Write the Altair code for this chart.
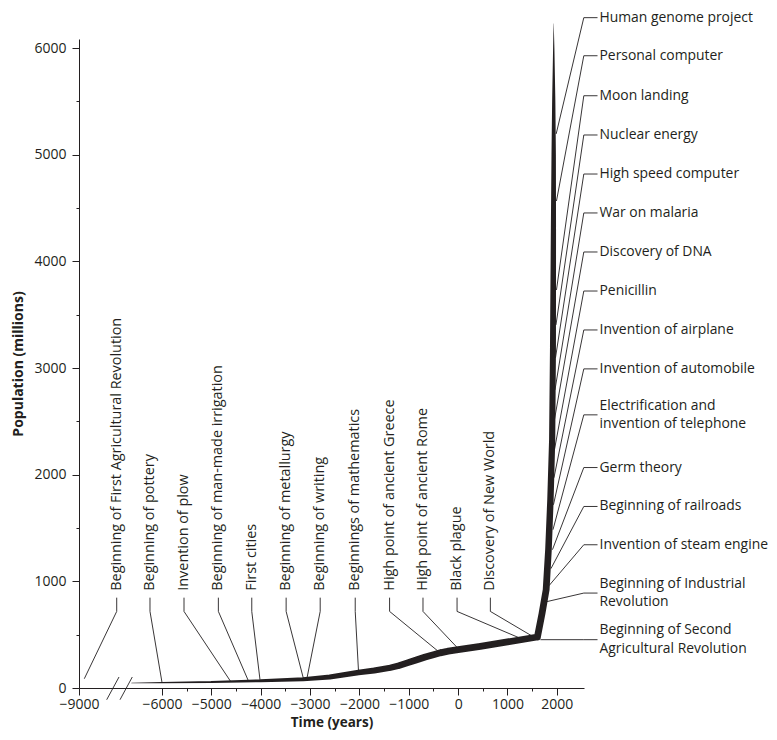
import altair as alt
import pandas as pd

# ---------------- data ----------------
# population curve: year, population (millions), drawn stroke width
curve_year = [-7100, -6000, -5000, -4000, -3140, -2600, -2018, -1700, -1375, -1200, -1030, -850, -665, -500,
              -361, -200, 0, 450, 1000, 1606,
              1700, 1783, 1830, 1870, 1905, 1921, 1931, 1936, 1937, 1937, 1935]
curve_pop = [47, 50, 56, 68, 82, 103, 146, 164, 190, 210, 235, 262, 290, 312,
             330, 345, 359, 390, 432, 478,
             700, 921, 1296, 1764, 2327, 3170, 4295, 5000, 5510, 6000, 6230]
curve_width = [0.6, 1.2, 2.0, 3.0, 4.0, 5.0, 5.6, 5.9, 6.2, 6.4, 6.6, 6.7, 6.8, 6.8,
               6.8, 6.8, 6.8, 6.8, 6.8, 6.8,
               6.8, 6.8, 6.6, 6.4, 6.2, 6.0, 5.2, 4.4, 3.2, 1.3, 0.2]

left_labels = ["Beginning of First Agricultural Revolution", "Beginning of pottery", "Invention of plow",
               "Beginning of man-made irrigation", "First cities", "Beginning of metallurgy",
               "Beginning of writing", "Beginnings of mathematics", "High point of ancient Greece",
               "High point of ancient Rome", "Black plague", "Discovery of New World"]
left_event_year = [-8808, -6000, -4606, -4249, -4012, -3134, -3065, -2018, -361, 10, 1296, 1531]
left_event_pop = [87, 52, 59, 66, 68, 87, 87, 153, 328, 365, 459, 478]

right_labels = ["Human genome project", "Personal computer", "Moon landing", "Nuclear energy",
                "High speed computer", "War on malaria", "Discovery of DNA", "Penicillin",
                "Invention of airplane", "Invention of automobile", "Electrification and\ninvention of telephone",
                "Germ theory", "Beginning of railroads", "Invention of steam engine",
                "Beginning of Industrial\nRevolution", "Beginning of Second\nAgricultural Revolution"]
right_event_year = [1986, 1992, 1992, 1982, 1972, 1962, 1951, 1951, 1941, 1931, 1921, 1911, 1880, 1840, 1789, 1667]
right_event_pop = [5195, 4566, 3732, 3404, 3095, 2795, 2514, 2233, 1971, 1718, 1484, 1297, 1119, 959, 809, 453]

x_tick_values = [-9000] + list(range(-6000, 2001, 500))
y_tick_values = list(range(0, 6001, 500))

# ---------------- annotation layout (in data units) ----------------
W, H = 505, 649
Y_MAX = 6085
left_label_x = [-7637, -6434, -5554, -4858, -4181, -3485, -2795, -2085, -1389, -712, -22, 653]
LEFT_TEXT_POP, LEFT_STUB_TOP, LEFT_STUB_BEND = 912, 847, 718
right_label_pop = [6285, 5928, 5553, 5185, 4819, 4454, 4088, 3722, 3357, 2992, 2561, 2067, 1702, 1343, 890, 453]
RIGHT_TEXT_X, RIGHT_STUB_END, RIGHT_STUB_BEND = 2864, 2824, 2546
break_marks = [(-7999, -110, -7554, 103), (-7518, -110, -7074, 103)]
LINE_H = 18.5
FS_LEFT = 14.4
FS_RIGHT = 13.9

INK = "#231f20"
FONT = "Open Sans"

curve_df = pd.DataFrame({"year": curve_year, "pop": curve_pop, "w": curve_width,
                         "idx": list(range(len(curve_year)))})

rows = []
for i, (lx, ey, ep) in enumerate(zip(left_label_x, left_event_year, left_event_pop)):
    rows += [{"id": f"L{i}", "k": 0, "year": lx, "pop": LEFT_STUB_TOP},
             {"id": f"L{i}", "k": 1, "year": lx, "pop": LEFT_STUB_BEND},
             {"id": f"L{i}", "k": 2, "year": ey, "pop": ep}]
for i, (lp, ey, ep) in enumerate(zip(right_label_pop, right_event_year, right_event_pop)):
    rows += [{"id": f"R{i}", "k": 0, "year": RIGHT_STUB_END, "pop": lp},
             {"id": f"R{i}", "k": 1, "year": RIGHT_STUB_BEND, "pop": lp},
             {"id": f"R{i}", "k": 2, "year": ey, "pop": ep}]
for j, (x1, y1, x2, y2) in enumerate(break_marks):
    rows += [{"id": f"B{j}", "k": 0, "year": x1, "pop": y1},
             {"id": f"B{j}", "k": 1, "year": x2, "pop": y2}]
lines_df = pd.DataFrame(rows)

pop_per_px = Y_MAX / H
right_text_pop = [p + (lab.count("\n")) * LINE_H / 2 * pop_per_px for p, lab in zip(right_label_pop, right_labels)]

left_text_df = pd.DataFrame({"label": left_labels, "year": left_label_x, "pop": [LEFT_TEXT_POP] * len(left_labels)})
right_text_df = pd.DataFrame({"label": right_labels, "year": [RIGHT_TEXT_X] * len(right_labels), "pop": right_text_pop})

xscale = alt.Scale(domain=[-9000, -6000, 2550], range=[0, 83, W], nice=False, zero=False)
yscale = alt.Scale(domain=[0, Y_MAX], nice=False, zero=False)

x_axis = alt.Axis(values=x_tick_values, format="d",
                  labelExpr="datum.value % 1000 === 0 ? datum.label : ''",
                  tickSize={"condition": {"test": "datum.value % 1000 !== 0", "value": 3}, "value": 7},
                  labelOverlap=False, labelFlush=False, grid=False, title="Time (years)",
                  labelPadding=2, titlePadding=4, titleFontSize=13.5)
y_axis = alt.Axis(values=y_tick_values, format="d",
                  labelExpr="datum.value % 1000 === 0 ? datum.label : ''",
                  tickSize={"condition": {"test": "datum.value % 1000 !== 0", "value": 3}, "value": 7},
                  labelOverlap=False, labelFlush=False, grid=False, title="Population (millions)",
                  labelPadding=6, titlePadding=8)

X = alt.X("year:Q", scale=xscale, axis=x_axis)
Y = alt.Y("pop:Q", scale=yscale, axis=y_axis)

curve = alt.Chart(curve_df).mark_trail(color=INK).encode(
    x=X, y=Y,
    size=alt.Size("w:Q", scale=None, legend=None),
    order=alt.Order("idx:Q"),
)

leaders = alt.Chart(lines_df).mark_line(color=INK, strokeWidth=0.9).encode(
    x=X, y=Y,
    detail="id:N",
    order=alt.Order("k:Q"),
)

left_text = alt.Chart(left_text_df).mark_text(angle=270, align="left", baseline="middle",
                                              font=FONT, fontSize=FS_LEFT, color=INK).encode(
    x=X, y=Y, text="label:N",
)

right_text = alt.Chart(right_text_df).mark_text(align="left", baseline="middle", lineBreak="\n",
                                                lineHeight=LINE_H, font=FONT, fontSize=FS_RIGHT, color=INK).encode(
    x=X, y=Y, text="label:N",
)

chart = alt.layer(curve, leaders, left_text, right_text).properties(
    width=W, height=H,
    autosize=alt.AutoSizeParams(type="none"),
    padding={"left": 71, "top": 31, "right": 184, "bottom": 43},
).configure(font=FONT).configure_view(stroke=None).configure_axis(
    domainColor=INK, tickColor=INK, labelColor=INK, titleColor=INK,
    labelFont=FONT, titleFont=FONT, labelFontSize=14, titleFontSize=14, titleFontWeight="bold",
    domainWidth=1, tickWidth=1,
)

chart.save("out.html", embed_options={"renderer": "svg", "actions": False})
